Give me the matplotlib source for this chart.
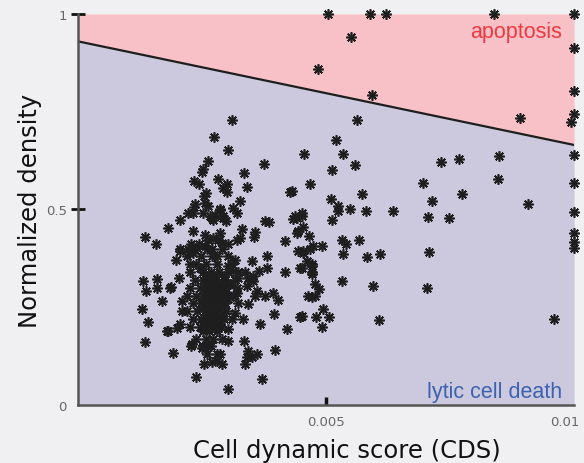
import matplotlib
matplotlib.use("Agg")
from matplotlib import pyplot as plt
from matplotlib.transforms import ScaledTranslation

# cell dynamic score (x 1e-3) and normalized density
cds_milli = [
    # apoptosis region and right edge
    5.04, 5.89, 6.21, 8.39, 10.0, 5.50, 4.83, 5.92, 8.90,
    10.0, 10.0, 10.0, 9.94, 10.0, 10.0, 10.0, 10.0, 10.0, 10.0,
    # middle right
    5.62, 5.20, 4.56, 5.34, 5.11, 5.59, 7.31, 7.69, 8.48, 8.47,
    6.96, 4.68, 4.31, 5.72, 7.74, 5.09, 7.13, 9.07, 5.25, 5.25,
    5.48, 5.80, 6.34, 7.05, 7.47, 5.11, 4.41, 4.51, 4.54, 4.51,
    4.66, 4.74, 4.91, 5.32, 5.40, 5.67, 4.54, 5.35, 5.82, 6.09,
    7.08, 4.61, 4.71, 4.51, 4.71, 5.33, 5.95, 7.03, 4.78, 4.85,
    4.78, 4.64, 4.71, 4.51, 4.93, 4.80, 5.05, 4.91, 6.07, 9.60,
    4.48,
    # middle
    3.10, 2.74, 3.02, 3.75, 3.35, 3.40, 3.00, 3.00, 2.93, 4.27,
    3.27, 3.13, 3.20, 2.86, 2.92, 2.98, 3.77, 3.84, 4.38, 4.34,
    3.30, 3.57, 3.55, 4.17, 4.41, 4.44, 2.86, 2.83, 2.90, 3.03,
    3.20, 3.27, 3.80, 4.44, 4.54, 4.68, 4.48, 4.71, 4.71, 4.17,
    3.80, 3.64, 3.50, 3.37, 3.43, 3.53, 3.17, 3.13, 3.03, 3.23,
    3.20, 3.03, 2.96, 3.40, 3.57, 3.43, 3.77, 3.94, 4.03, 3.53,
    3.60, 3.95, 4.21, 3.67, 3.33, 3.17, 3.03, 3.35, 3.03, 3.97,
    3.43, 3.50, 3.60, 3.40, 2.86, 2.90, 2.80, 3.37, 3.70, 3.03,
    # upper left
    2.63, 2.51, 2.49, 2.82, 2.34, 2.43, 2.58, 2.53, 2.36, 2.34,
    2.56, 2.63, 2.22, 2.32, 2.51, 2.76, 2.70, 2.06, 1.82, 2.31,
    1.35, 1.57, 2.56, 2.63, 2.73, 2.27, 2.43, 2.06, 2.56, 2.66,
    2.73, 2.86, 2.93,
    # lower left
    1.98, 2.22, 2.39, 2.70, 2.26, 2.46, 2.80, 1.30, 1.60, 1.60,
    1.38, 1.88, 2.04, 1.69, 1.28, 1.42, 1.82, 1.36, 1.92, 2.27,
    2.38, 2.53, 2.70, 2.09, 2.09, 2.06, 2.29, 2.49, 2.63, 2.80,
    1.85, 1.79, 1.99, 2.06, 2.32,
    # dense core
    2.32, 2.60, 2.90,
    2.19, 2.47, 2.71, 3.03,
    2.38, 2.58, 2.81, 3.10,
    2.25, 2.51, 2.68, 2.84, 3.03, 3.23,
    2.60, 2.76, 2.94,
    2.35, 2.51, 2.65, 2.78, 2.97, 3.16,
    2.58, 2.71, 2.86, 3.07,
    2.25, 2.45, 2.63, 2.76, 2.91, 3.20,
    2.55, 2.68, 2.84, 2.99,
    2.19, 2.38, 2.51, 2.65, 2.78, 2.94, 3.12,
    2.60, 2.73, 2.86, 3.03,
    2.32, 2.47, 2.58, 2.71, 2.84, 2.97, 3.23,
    2.52, 2.65, 2.78, 2.91,
    2.19, 2.40, 2.55, 2.68, 2.81, 2.99,
    2.60, 2.73, 2.89,
    2.32, 2.47, 2.63, 2.76, 2.94, 3.10,
    2.55, 2.71, 2.84,
    2.25, 2.45, 2.60, 2.73, 2.89,
    2.52, 2.65, 2.81,
    2.38, 2.58, 2.73, 2.90,
    2.51, 2.68,
    2.60,
]

density = [
    1.0, 1.0, 1.0, 1.0, 1.0, 0.942, 0.859, 0.793, 0.734,
    0.914, 0.804, 0.744, 0.724, 0.639, 0.568, 0.494, 0.440, 0.417, 0.402,
    0.728, 0.679, 0.643, 0.643, 0.600, 0.613, 0.621, 0.629, 0.638, 0.577,
    0.568, 0.566, 0.547, 0.540, 0.540, 0.526, 0.521, 0.514, 0.508, 0.496,
    0.502, 0.496, 0.497, 0.481, 0.477, 0.472, 0.479, 0.490, 0.455, 0.483,
    0.432, 0.406, 0.406, 0.423, 0.411, 0.421, 0.394, 0.387, 0.378, 0.387,
    0.392, 0.368, 0.355, 0.351, 0.334, 0.317, 0.304, 0.298, 0.309, 0.296,
    0.279, 0.279, 0.275, 0.228, 0.245, 0.224, 0.224, 0.200, 0.218, 0.221,
    0.226,
    0.728, 0.685, 0.651, 0.617, 0.594, 0.558, 0.544, 0.564, 0.555, 0.545,
    0.521, 0.504, 0.492, 0.498, 0.479, 0.470, 0.470, 0.468, 0.483, 0.476,
    0.449, 0.442, 0.430, 0.419, 0.440, 0.445, 0.440, 0.423, 0.415, 0.411,
    0.423, 0.428, 0.381, 0.394, 0.390, 0.398, 0.351, 0.360, 0.339, 0.339,
    0.351, 0.343, 0.368, 0.339, 0.326, 0.317, 0.372, 0.343, 0.355, 0.326,
    0.287, 0.309, 0.283, 0.304, 0.279, 0.258, 0.279, 0.287, 0.268, 0.330,
    0.292, 0.232, 0.194, 0.207, 0.219, 0.236, 0.194, 0.164, 0.164, 0.140,
    0.139, 0.122, 0.130, 0.122, 0.130, 0.105, 0.113, 0.105, 0.066, 0.041,
    0.625, 0.604, 0.595, 0.579, 0.572, 0.566, 0.541, 0.534, 0.513, 0.507,
    0.517, 0.508, 0.492, 0.492, 0.492, 0.487, 0.479, 0.472, 0.453, 0.445,
    0.430, 0.411, 0.436, 0.423, 0.428, 0.411, 0.413, 0.398, 0.406, 0.483,
    0.474, 0.500, 0.483,
    0.372, 0.398, 0.402, 0.398, 0.360, 0.351, 0.381, 0.317, 0.321, 0.300,
    0.292, 0.302, 0.326, 0.266, 0.245, 0.211, 0.188, 0.160, 0.134, 0.151,
    0.072, 0.105, 0.109, 0.266, 0.240, 0.207, 0.156, 0.147, 0.151, 0.130,
    0.300, 0.190, 0.198, 0.394, 0.390,
    0.40, 0.40, 0.40,
    0.38, 0.38, 0.38, 0.38,
    0.36, 0.36, 0.36, 0.36,
    0.34, 0.34, 0.34, 0.34, 0.34, 0.34,
    0.33, 0.33, 0.33,
    0.32, 0.32, 0.32, 0.32, 0.32, 0.32,
    0.31, 0.31, 0.31, 0.31,
    0.30, 0.30, 0.30, 0.30, 0.30, 0.30,
    0.29, 0.29, 0.29, 0.29,
    0.28, 0.28, 0.28, 0.28, 0.28, 0.28, 0.28,
    0.27, 0.27, 0.27, 0.27,
    0.26, 0.26, 0.26, 0.26, 0.26, 0.26, 0.26,
    0.25, 0.25, 0.25, 0.25,
    0.24, 0.24, 0.24, 0.24, 0.24, 0.24,
    0.23, 0.23, 0.23,
    0.22, 0.22, 0.22, 0.22, 0.22, 0.22,
    0.21, 0.21, 0.21,
    0.20, 0.20, 0.20, 0.20, 0.20,
    0.19, 0.19, 0.19,
    0.17, 0.17, 0.17, 0.17,
    0.15, 0.15,
    0.13,
]

# boundary between the two regions
boundary_x = [0.0, 0.01]
boundary_y = [0.93, 0.665]

x_ticks = [0.005, 0.01]
x_tick_labels = ["0.005", "0.01"]
y_ticks = [0, 0.5, 1]
y_tick_labels = ["0", "0.5", "1"]

cds = [v / 1000 for v in cds_milli]

fig = plt.figure(figsize=(5.84, 4.64), dpi=100, facecolor="#f0f0f2")
ax = fig.add_axes([0.1336, 0.125, 0.983 - 0.1336, 0.9677 - 0.125])

ax.fill_between(boundary_x, boundary_y, [1, 1], color="#f7c1c7", lw=0, zorder=0)
ax.fill_between(boundary_x, [0, 0], boundary_y, color="#ccc9de", lw=0, zorder=0)
ax.plot(boundary_x, boundary_y, color="#1e1e1e", lw=1.6, zorder=2)

ax.plot(cds, density, ls="none", marker=(8, 2, 0), ms=7.5, mew=1.2,
        color="#1e1e1e", zorder=3, clip_on=False)

ax.text(0.00975, 0.955, "apoptosis", color="#ec3a40", fontsize=15.5,
        family="Liberation Sans", ha="right", va="center")
ax.text(0.00975, 0.035, "lytic cell death", color="#3a62b0", fontsize=15.5,
        family="Liberation Sans", ha="right", va="center")

ax.set_xlim(0, 0.01)
ax.set_ylim(0, 1)
ax.set_facecolor("none")
for side in ("top", "right"):
    ax.spines[side].set_visible(False)
for side in ("left", "bottom"):
    ax.spines[side].set_color("#555555")
    ax.spines[side].set_linewidth(1.8)

ax.set_xticks(x_ticks)
ax.set_xticklabels(x_tick_labels)
ax.set_yticks(y_ticks)
ax.set_yticklabels(y_tick_labels)
ax.tick_params(axis="x", direction="in", length=6, width=2.5, color="#111111",
               labelsize=9.5, labelcolor="#666666", pad=7)
ax.tick_params(axis="y", direction="inout", length=10, width=2, color="#111111",
               labelsize=9.5, labelcolor="#666666", pad=3)
ax.xaxis.get_major_ticks()[1].tick1line.set_visible(False)
ax.yaxis.get_major_ticks()[0].tick1line.set_visible(False)

# the last x label sits a little left of the axis end
last = ax.get_xticklabels()[-1]
last.set_transform(last.get_transform() + ScaledTranslation(-0.09, 0, fig.dpi_scale_trans))

ax.set_xlabel("Cell dynamic score (CDS)", family="DejaVu Sans", fontsize=17.5,
              color="#111111", labelpad=3)
ax.xaxis.set_label_coords(0.542, -0.085)
ax.set_ylabel("Normalized density", family="DejaVu Sans", fontsize=17.5,
              color="#111111", labelpad=3)

fig.savefig("out.png", dpi=100, facecolor=fig.get_facecolor())
